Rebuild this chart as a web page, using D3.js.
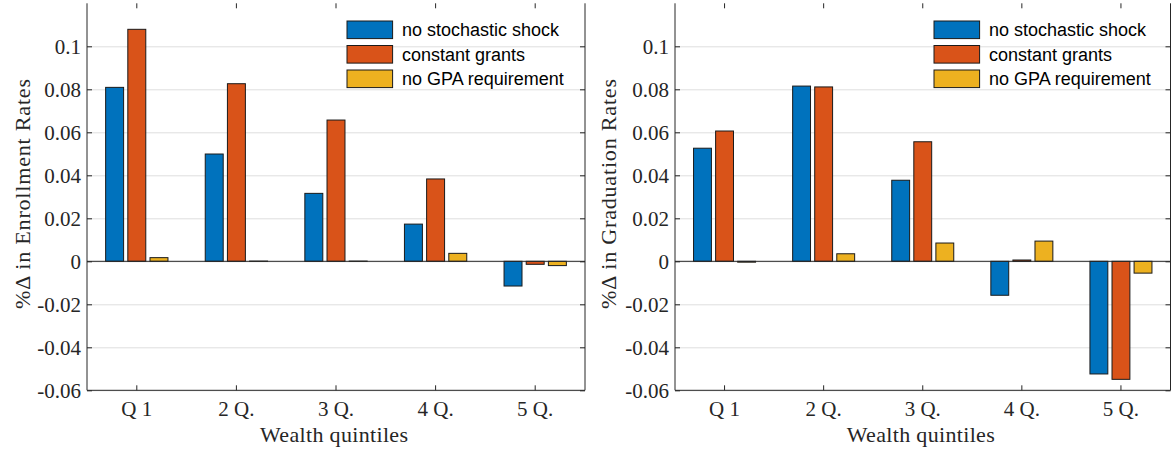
<!DOCTYPE html>
<html>
<head>
<meta charset="utf-8">
<script src="https://cdn.jsdelivr.net/npm/d3@7"></script>
<style>
  html, body { margin: 0; padding: 0; background: #fff; }
  svg { display: block; }
  .tick text { font-family: "Liberation Serif", "Times New Roman", serif; font-size: 21px; fill: #262626; }
  .legend text { font-family: "Liberation Sans", Arial, sans-serif; font-size: 18px; fill: #000; }
  .axis-label { font-family: "Liberation Serif", "Times New Roman", serif; font-size: 22px; fill: #262626; }
</style>
</head>
<body>
<svg id="chart" width="1171" height="450"></svg>
<script>
// Quintile categories and the three counterfactual scenarios
const quintiles = ["Q 1", "2 Q.", "3 Q.", "4 Q.", "5 Q."];
const scenarios = ["no stochastic shock", "constant grants", "no GPA requirement"];
const scenarioColors = ["#0072BD", "#D95319", "#EDB120"];

// Percent change in enrollment rates, by scenario (one value per quintile)
const enrollNoShock   = [0.0809, 0.0499, 0.0316, 0.0173, -0.0115];
const enrollConstGr   = [0.1079, 0.0826, 0.0657, 0.0383, -0.0014];
const enrollNoGPA     = [0.0017, 0.0001, 0.0001, 0.0037, -0.0020];

// Percent change in graduation rates, by scenario
const gradNoShock     = [0.0526, 0.0815, 0.0377, -0.0158, -0.0524];
const gradConstGr     = [0.0606, 0.0811, 0.0556, 0.0006, -0.0549];
const gradNoGPA       = [-0.0004, 0.0035, 0.0085, 0.0094, -0.0055];

const yTicks = [-0.06, -0.04, -0.02, 0, 0.02, 0.04, 0.06, 0.08, 0.1];
const yDomain = [-0.06, 0.12];

const panels = [
  { left: 87, right: 585, series: [enrollNoShock, enrollConstGr, enrollNoGPA],
    ylabel: "%Δ in Enrollment Rates", ylabelX: 20, ylabelLen: 230,
    legendX: 347 },
  { left: 675, right: 1170.5, series: [gradNoShock, gradConstGr, gradNoGPA],
    ylabel: "%Δ in Graduation Rates", ylabelX: 606, ylabelLen: 230,
    legendX: 934 }
];

const plotTop = 3.3, plotBottom = 390.3;
const svg = d3.select("#chart");
const fmt = d => d === 0 ? "0" : String(+d.toFixed(2));

panels.forEach(p => {
  const g = svg.append("g");
  const w = p.right - p.left;

  const x = d3.scaleBand().domain(quintiles).range([p.left, p.right]).paddingInner(0).paddingOuter(0);
  const bw = x.bandwidth();
  const xs = d3.scaleBand().domain(scenarios)
    .range([-0.334 * bw, 0.334 * bw]).paddingInner(0.19).paddingOuter(0.095);
  const y = d3.scaleLinear().domain(yDomain).range([plotBottom, plotTop]);

  // horizontal grid
  g.append("g")
    .attr("transform", `translate(${p.left},0)`)
    .call(d3.axisLeft(y).tickValues(yTicks).tickSize(-w).tickFormat(""))
    .call(s => s.select(".domain").remove())
    .call(s => s.selectAll("line").attr("stroke", "#dedede").attr("stroke-width", 1));

  // bars
  p.series.forEach((vals, j) => {
    g.append("g").selectAll("rect")
      .data(vals.map((v, i) => ({ q: quintiles[i], v })))
      .join("rect")
      .attr("x", d => x(d.q) + bw / 2 + xs(scenarios[j]))
      .attr("width", xs.bandwidth())
      .attr("y", d => y(Math.max(0, d.v)))
      .attr("height", d => Math.abs(y(d.v) - y(0)))
      .attr("fill", scenarioColors[j])
      .attr("stroke", "#1a1a1a")
      .attr("stroke-width", 1);
  });

  // zero baseline
  g.append("line")
    .attr("x1", p.left).attr("x2", p.right)
    .attr("y1", y(0)).attr("y2", y(0))
    .attr("stroke", "#262626").attr("stroke-width", 1);

  // left y axis with labels, inward ticks
  g.append("g")
    .attr("transform", `translate(${p.left},0)`)
    .call(d3.axisLeft(y).tickValues(yTicks).tickSizeInner(-5).tickSizeOuter(0).tickPadding(6).tickFormat(fmt))
    .call(s => s.select(".domain").attr("stroke", "#262626").attr("d", `M0,${plotTop}V${plotBottom}`))
    .call(s => s.selectAll("line").attr("stroke", "#262626"));

  // right y axis, ticks only
  g.append("g")
    .attr("transform", `translate(${p.right},0)`)
    .call(d3.axisRight(y).tickValues(yTicks).tickSizeInner(-5).tickSizeOuter(0).tickFormat(""))
    .call(s => s.select(".domain").attr("stroke", "#262626").attr("d", `M0,${plotTop}V${plotBottom}`))
    .call(s => s.selectAll("line").attr("stroke", "#262626"));

  // bottom x axis with quintile labels
  g.append("g")
    .attr("transform", `translate(0,${plotBottom})`)
    .call(d3.axisBottom(x).tickSizeInner(-5).tickSizeOuter(0).tickPadding(11))
    .call(s => s.select(".domain").attr("stroke", "#262626").attr("d", `M${p.left},0H${p.right}`))
    .call(s => s.selectAll("line").attr("stroke", "#262626"));

  // top ticks
  g.append("g")
    .attr("transform", `translate(0,${plotTop})`)
    .call(d3.axisTop(x).tickSizeInner(-5).tickSizeOuter(0).tickFormat(""))
    .call(s => s.select(".domain").remove())
    .call(s => s.selectAll("line").attr("stroke", "#262626"));

  // axis titles
  g.append("text")
    .attr("class", "axis-label")
    .attr("x", (p.left + p.right) / 2 - 2)
    .attr("y", 442)
    .attr("text-anchor", "middle")
    .attr("textLength", 148)
    .attr("lengthAdjust", "spacing")
    .text("Wealth quintiles");

  g.append("text")
    .attr("class", "axis-label")
    .attr("transform", `translate(${p.ylabelX + 10},${(80 + 308) / 2}) rotate(-90)`)
    .attr("text-anchor", "middle")
    .attr("textLength", p.ylabelLen)
    .attr("lengthAdjust", "spacing")
    .text(p.ylabel);

  // legend
  const lg = g.append("g").attr("class", "legend");
  scenarios.forEach((s, j) => {
    const cy = 29.8 + j * 24.5;
    lg.append("rect")
      .attr("x", p.legendX).attr("y", cy - 8.8)
      .attr("width", 45.6).attr("height", 17.6)
      .attr("fill", scenarioColors[j])
      .attr("stroke", "#1a1a1a").attr("stroke-width", 1);
    lg.append("text")
      .attr("x", p.legendX + 55).attr("y", cy + 6.3)
      .text(s);
  });
});
</script>
</body>
</html>
